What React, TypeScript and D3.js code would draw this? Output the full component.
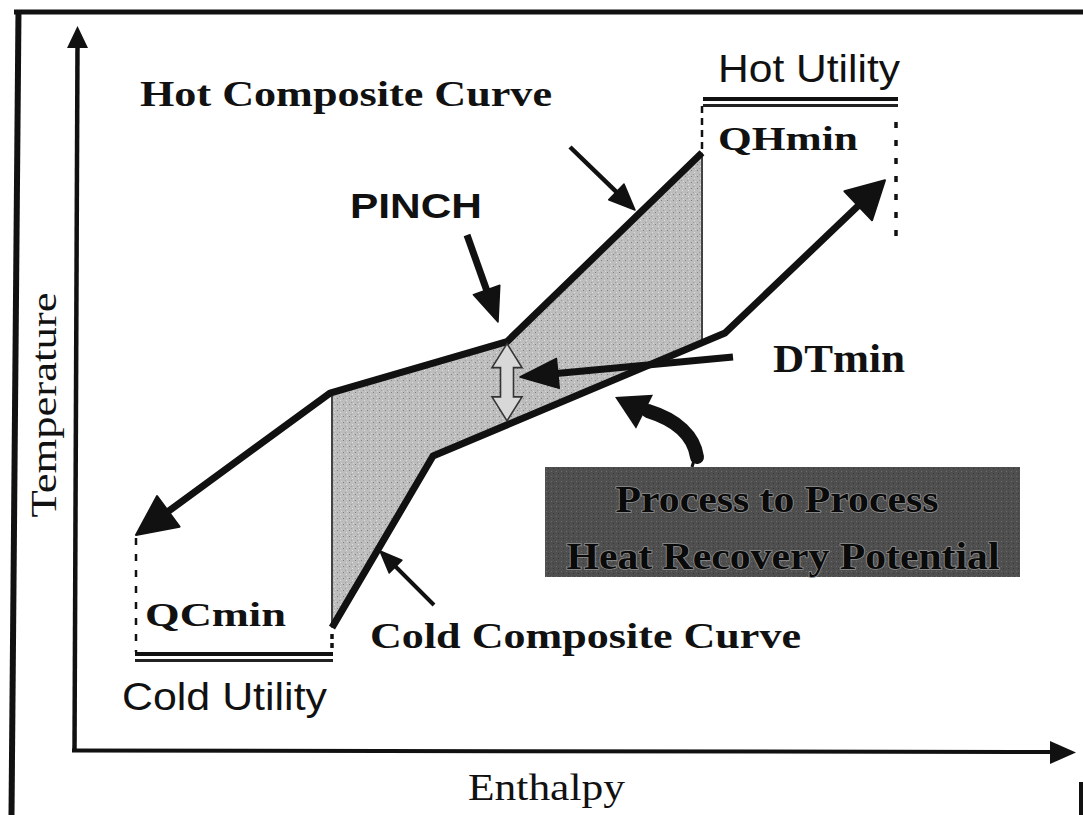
import * as d3 from "d3";

// composite curves (enthalpy / temperature, 0-100 units)
const hotEnthalpy = [62.7, 43.2, 25.5, 6.1];
const hotTemp = [82.5, 56.4, 49.3, 29.7];
const coldEnthalpy = [25.7, 35.8, 65.0, 81.0];
const coldTemp = [16.9, 40.6, 57.6, 78.7];
const hotUtility = [62.7, 82.1]; // QHmin span
const coldUtility = [6.1, 25.7]; // QCmin span
const pinchEnthalpy = 43.2;

const W = 1083,
  H = 815;
const serif = '"Liberation Serif", "Times New Roman", serif';
const sans = '"Liberation Sans", Arial, sans-serif';

type P = [number, number];

const x = d3.scaleLinear().domain([0, 100]).range([75, 1075]);
const y = d3.scaleLinear().domain([0, 100]).range([750, 26]);

// piecewise value of a curve at some enthalpy
function tempAt(hs: number[], ts: number[], h: number) {
  const idx = hs.map((_, i) => i).sort((a, b) => hs[a] - hs[b]);
  return d3
    .scaleLinear()
    .domain(idx.map((i) => hs[i]))
    .range(idx.map((i) => ts[i]))(h);
}

function head(tip: P, from: P, len: number, w: number) {
  const dx = tip[0] - from[0],
    dy = tip[1] - from[1];
  const d = Math.hypot(dx, dy);
  const ux = dx / d,
    uy = dy / d;
  const bx = tip[0] - ux * len,
    by = tip[1] - uy * len;
  const px = (-uy * w) / 2,
    py = (ux * w) / 2;
  return {
    d: `M${tip[0]},${tip[1]}L${bx + px},${by + py}L${bx - px},${by - py}Z`,
    base: [bx + ux * 4, by + uy * 4] as P,
  };
}

function Arrow({ from, tip, len, w, sw }: { from: P; tip: P; len: number; w: number; sw: number }) {
  const h = head(tip, from, len, w);
  return (
    <g>
      <line x1={from[0]} y1={from[1]} x2={h.base[0]} y2={h.base[1]} stroke="#111" strokeWidth={sw} />
      <path d={h.d} fill="#111" stroke="#111" strokeWidth={1.5} strokeLinejoin="round" />
    </g>
  );
}

export default function App() {
  const line = d3.line<P>();

  const hotPts: P[] = hotEnthalpy.map((h, i) => [x(h), y(hotTemp[i])]);
  const coldPts: P[] = coldEnthalpy.map((h, i) => [x(h), y(coldTemp[i])]);

  const hotHead = head(hotPts[hotPts.length - 1], hotPts[hotPts.length - 2], 40, 38);
  const coldHead = head(coldPts[coldPts.length - 1], coldPts[coldPts.length - 2], 37, 40);
  const hotLine = [...hotPts.slice(0, -1), hotHead.base];
  const coldLine = [...coldPts.slice(0, -1), coldHead.base];

  // overlap region between the curves
  const left = coldEnthalpy[0],
    right = hotEnthalpy[0];
  const rightLow = y(tempAt(coldEnthalpy, coldTemp, right));
  const shade: P[] = [
    [x(left), y(tempAt(hotEnthalpy, hotTemp, left))],
    ...hotEnthalpy
      .map((h, i) => [h, hotTemp[i]])
      .filter(([h]) => h > left && h <= right)
      .sort((a, b) => a[0] - b[0])
      .map(([h, t]) => [x(h), y(t)] as P),
    [x(right), rightLow],
    ...coldEnthalpy
      .map((h, i) => [h, coldTemp[i]])
      .filter(([h]) => h >= left && h < right)
      .sort((a, b) => b[0] - a[0])
      .map(([h, t]) => [x(h), y(t)] as P),
  ];

  // DTmin double arrow at the pinch
  const px = x(pinchEnthalpy);
  const top = y(tempAt(hotEnthalpy, hotTemp, pinchEnthalpy)) + 2;
  const bot = y(tempAt(coldEnthalpy, coldTemp, pinchEnthalpy)) - 4;
  const hw = 15,
    sw = 6.5,
    hl = 24;
  const dbl = `M${px},${top}L${px + hw},${top + hl}L${px + sw},${top + hl}L${px + sw},${bot - hl}L${px + hw},${bot - hl}L${px},${bot}L${px - hw},${bot - hl}L${px - sw},${bot - hl}L${px - sw},${top + hl}L${px - hw},${top + hl}Z`;

  const curvedHead = head([615, 397], [645, 412], 33, 38);

  return (
    <svg width={W} height={H} style={{ position: "absolute", left: 0, top: 0, background: "#fff" }}>
      <defs>
        <pattern id="shadeTex" width={6} height={6} patternUnits="userSpaceOnUse">
          <rect width={6} height={6} fill="#bdbdbd" />
          <rect x={1} y={2} width={1} height={1} fill="#808080" />
          <rect x={4} y={4} width={1} height={1} fill="#e2e2e2" />
          <rect x={3} y={0} width={1} height={1} fill="#9e9e9e" />
          <rect x={5} y={1} width={1} height={1} fill="#d6d6d6" />
        </pattern>
        <pattern id="boxTex" width={5} height={5} patternUnits="userSpaceOnUse">
          <rect width={5} height={5} fill="#4f4f4f" />
          <rect x={1} y={1} width={1} height={1} fill="#6c6c6c" />
          <rect x={3} y={3} width={1} height={1} fill="#373737" />
        </pattern>
      </defs>
      <rect width={W} height={H} fill="#fff" />

      {/* frame */}
      <line x1={14} y1={12} x2={W} y2={12} stroke="#111" strokeWidth={5} />
      <line x1={18.5} y1={10} x2={11.5} y2={H} stroke="#111" strokeWidth={6} />
      <rect x={1079} y={782} width={4} height={33} fill="#111" />

      {/* axes */}
      <line x1={77.5} y1={44} x2={74.5} y2={752} stroke="#111" strokeWidth={4.5} />
      <path d={head([77.5, 26], [77.5, 60], 22, 21).d} fill="#111" />
      <line x1={72} y1={750.5} x2={1052} y2={752} stroke="#111" strokeWidth={4} />
      <path d={head([1076, 752.5], [1040, 752.5], 26, 23).d} fill="#111" />
      <text
        transform="translate(56,405) rotate(-90)"
        textAnchor="middle"
        fontFamily={serif}
        fontSize={35}
        textLength={225}
        lengthAdjust="spacingAndGlyphs"
        fill="#111"
      >
        Temperature
      </text>
      <text x={468} y={800} fontFamily={serif} fontSize={37} textLength={157} lengthAdjust="spacingAndGlyphs" fill="#111">
        Enthalpy
      </text>

      {/* heat recovery region */}
      <path d={line(shade) + "Z"} fill="url(#shadeTex)" />
      <line x1={x(left)} y1={shade[0][1]} x2={x(left)} y2={y(coldTemp[0])} stroke="#444" strokeWidth={2} />
      <line x1={x(right)} y1={y(hotTemp[0])} x2={x(right)} y2={rightLow} stroke="#444" strokeWidth={2} />

      {/* utilities */}
      <line x1={x(hotUtility[0])} y1={106} x2={x(hotUtility[0])} y2={y(hotTemp[0])} stroke="#111" strokeWidth={2.5} strokeDasharray="7 5" />
      <line x1={x(hotUtility[1])} y1={122} x2={x(hotUtility[1])} y2={242} stroke="#111" strokeWidth={3.5} strokeDasharray="6 12" />
      <rect x={x(hotUtility[0]) + 1} y={97} width={x(hotUtility[1]) - x(hotUtility[0]) + 1} height={4} fill="#111" />
      <rect x={x(hotUtility[0]) + 1} y={104} width={x(hotUtility[1]) - x(hotUtility[0]) + 1} height={3} fill="#222" />
      <line x1={x(coldUtility[0])} y1={538} x2={x(coldUtility[0])} y2={652} stroke="#111" strokeWidth={2.5} strokeDasharray="7 9" />
      <line x1={x(coldUtility[1])} y1={634} x2={x(coldUtility[1])} y2={652} stroke="#111" strokeWidth={3.5} strokeDasharray="5 4" />
      <rect x={x(coldUtility[0]) - 1} y={652} width={x(coldUtility[1]) - x(coldUtility[0]) + 2} height={4} fill="#111" />
      <rect x={x(coldUtility[0]) - 1} y={659} width={x(coldUtility[1]) - x(coldUtility[0]) + 2} height={3} fill="#222" />

      {/* composite curves */}
      <path d={line(hotLine)!} fill="none" stroke="#111" strokeWidth={7} strokeLinejoin="round" />
      <path d={hotHead.d} fill="#111" stroke="#111" strokeWidth={2} strokeLinejoin="round" />
      <path d={line(coldLine)!} fill="none" stroke="#111" strokeWidth={7} strokeLinejoin="round" />
      <path d={coldHead.d} fill="#111" stroke="#111" strokeWidth={2} strokeLinejoin="round" />

      {/* DTmin */}
      <path d={dbl} fill="#d8d8d8" stroke="#333" strokeWidth={1.6} />
      <Arrow from={[733, 357]} tip={[520, 377]} len={38} w={30} sw={7} />

      {/* pointers */}
      <Arrow from={[467, 235]} tip={[498, 322]} len={34} w={28} sw={7} />
      <Arrow from={[570, 147]} tip={[635, 210]} len={26} w={22} sw={4.5} />
      <Arrow from={[434, 605]} tip={[380, 551]} len={22} w={18} sw={4} />

      {/* curved arrow from box */}
      <line x1={692} y1={467} x2={696} y2={454} stroke="#111" strokeWidth={3} />
      <path d="M697,457 C694,436 677,420 648,411" fill="none" stroke="#111" strokeWidth={14} strokeLinecap="round" />
      <path d={curvedHead.d} fill="#111" />

      {/* box */}
      <rect x={545} y={467} width={475} height={110} fill="url(#boxTex)" />
      <g fontFamily={serif} fontWeight="bold" fontSize={38} fill="#0a0a0a" stroke="#8e8e8e" strokeWidth={1.6} paintOrder="stroke" textAnchor="middle">
        <text x={777} y={512} textLength={323} lengthAdjust="spacingAndGlyphs">
          Process to Process
        </text>
        <text x={783} y={569} textLength={433} lengthAdjust="spacingAndGlyphs">
          Heat Recovery Potential
        </text>
      </g>

      {/* labels */}
      <g fill="#111">
        <text x={140} y={106} fontFamily={serif} fontWeight="bold" fontSize={35} textLength={412} lengthAdjust="spacingAndGlyphs">
          Hot Composite Curve
        </text>
        <text x={350} y={218} fontFamily={sans} fontWeight="bold" fontSize={35} textLength={132} lengthAdjust="spacingAndGlyphs">
          PINCH
        </text>
        <text x={718} y={82} fontFamily={sans} fontSize={39} textLength={182} lengthAdjust="spacingAndGlyphs">
          Hot Utility
        </text>
        <text x={718} y={150} fontFamily={serif} fontWeight="bold" fontSize={33} textLength={140} lengthAdjust="spacingAndGlyphs">
          QHmin
        </text>
        <text x={773} y={372} fontFamily={serif} fontWeight="bold" fontSize={39} textLength={132} lengthAdjust="spacingAndGlyphs">
          DTmin
        </text>
        <text x={145} y={626} fontFamily={serif} fontWeight="bold" fontSize={33} textLength={141} lengthAdjust="spacingAndGlyphs">
          QCmin
        </text>
        <text x={370} y={648} fontFamily={serif} fontWeight="bold" fontSize={36} textLength={431} lengthAdjust="spacingAndGlyphs">
          Cold Composite Curve
        </text>
        <text x={122} y={710} fontFamily={sans} fontSize={39} textLength={205} lengthAdjust="spacingAndGlyphs">
          Cold Utility
        </text>
      </g>
    </svg>
  );
}
